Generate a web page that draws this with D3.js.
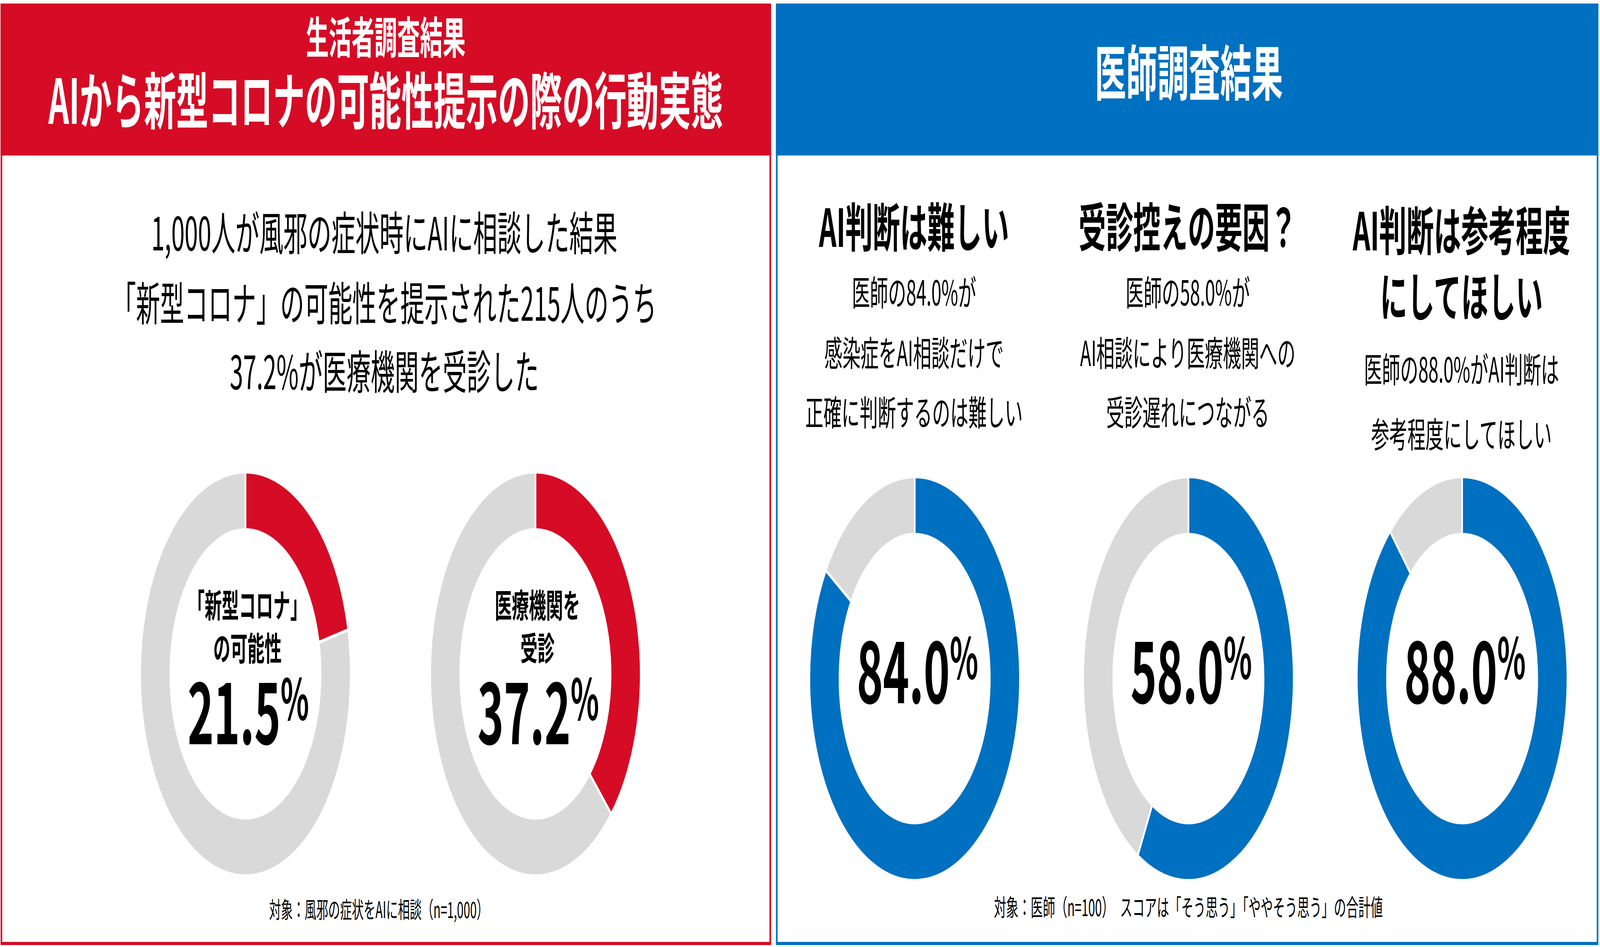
<!DOCTYPE html>
<html>
<head>
<meta charset="utf-8">
<script src="https://cdn.jsdelivr.net/npm/d3@7"></script>
<style>
  html, body { margin: 0; padding: 0; background: #fff; overflow: hidden; }
  svg { display: block; width: 100vw; height: 100vh; }
  text { font-family: "Noto Sans CJK JP", "Noto Sans", sans-serif; }
</style>
</head>
<body>
<div id="chart"></div>
<script>
// 生活者調査（左パネル）
const consumerTitle = ["生活者調査結果", "AIから新型コロナの可能性提示の際の行動実態"];
const consumerLead = [
  "1,000人が風邪の症状時にAIに相談した結果",
  "「新型コロナ」の可能性を提示された215人のうち",
  "37.2%が医療機関を受診した"
];
const consumerValues = [21.5, 37.2];
const consumerLabels = [["「新型コロナ」", "の可能性"], ["医療機関を", "受診"]];
const consumerNote = "対象：風邪の症状をAIに相談（n=1,000）";

// 医師調査（右パネル）
const doctorTitle = "医師調査結果";
const doctorValues = [84.0, 58.0, 88.0];
const doctorHeadings = [["AI判断は難しい"], ["受診控えの要因？"], ["AI判断は参考程度", "にしてほしい"]];
const doctorBodies = [
  ["医師の84.0%が", "感染症をAI相談だけで", "正確に判断するのは難しい"],
  ["医師の58.0%が", "AI相談により医療機関への", "受診遅れにつながる"],
  ["医師の88.0%がAI判断は", "参考程度にしてほしい"]
];
const doctorNote = "対象：医師（n=100）　スコアは「そう思う」「ややそう思う」の合計値";

const W = 7856, H = 2424;
const RED = "#D60B25", BLUE = "#0070C0", GRAY = "#D9D9D9";

// 描画は 7856x2424 の座標で行い、ウィンドウ全体に合わせて伸縮させる
const svg = d3.select("#chart").append("svg")
  .attr("viewBox", `0 0 ${W} ${H}`)
  .attr("preserveAspectRatio", "none");

// 文字の見た目の中心を y に合わせる（central だと少し下がるので補正）
function label(sel, x, y, size, weight, fill) {
  return sel.attr("x", x)
    .attr("y", typeof y === "function" ? (d, j) => y(d, j) - size * 0.05 : y - size * 0.05)
    .attr("text-anchor", "middle").attr("dominant-baseline", "central")
    .attr("font-size", size).attr("font-weight", weight).attr("fill", fill);
}

// パネル枠とヘッダー
function panel(x0, x1, color) {
  const g = svg.append("g");
  g.append("rect")
    .attr("x", x0).attr("y", 9)
    .attr("width", x1 - x0).attr("height", 389)
    .attr("fill", color);
  g.append("rect")
    .attr("x", x0 + 4).attr("y", 13)
    .attr("width", x1 - x0 - 8).attr("height", 2402)
    .attr("fill", "none")
    .attr("stroke", color)
    .attr("stroke-width", 8);
  return g;
}
panel(3, 3786, RED);
panel(3810, 7848, BLUE);

const pie = d3.pie().sort(null).value(d => d);
const arc = d3.arc().innerRadius(369).outerRadius(517);

function donut(cx, cy, value, color) {
  const g = svg.append("g").attr("transform", `translate(${cx},${cy})`);
  g.selectAll("path")
    .data(pie([value, 100 - value]))
    .join("path")
    .attr("d", arc)
    .attr("fill", (d, i) => i === 0 ? color : GRAY)
    .attr("stroke", "#fff")
    .attr("stroke-width", 8);
  return g;
}

function bigNumber(g, value, baseline) {
  const t = g.append("text")
    .attr("x", 14).attr("y", baseline)
    .attr("text-anchor", "middle")
    .attr("font-weight", 700)
    .attr("fill", "#000");
  t.append("tspan").attr("font-size", 218).text(value.toFixed(1));
  t.append("tspan").attr("font-size", 145).attr("dy", -62).text("%");
}

// ---- 左パネル ----
const lx = 1894;
label(svg.append("text"), lx, 95, 112, 700, "#fff").text(consumerTitle[0]);
label(svg.append("text"), lx, 256, 158, 700, "#fff").text(consumerTitle[1]);

const leadY = [595, 775, 950];
label(svg.selectAll("text.lead").data(consumerLead).join("text").attr("class", "lead"),
  1887, (d, i) => leadY[i], 118, 400, "#000")
  .text(d => d);

const xLeft = d3.scalePoint().domain(d3.range(consumerValues.length)).range([1205, 2629]);
consumerValues.forEach((v, i) => {
  const g = donut(xLeft(i), 1725, v, RED);
  label(g.selectAll("text.lab").data(consumerLabels[i]).join("text").attr("class", "lab"),
    10, (d, j) => -177 + j * 110, 84, 700, "#000")
    .text(d => d);
  bigNumber(g, v, 180);
});

label(svg.append("text"), 1860, 2327, 58, 400, "#000").text(consumerNote);

// ---- 右パネル ----
label(svg.append("text"), 5837, 185, 154, 700, "#fff").text(doctorTitle);

const xRight = d3.scalePoint().domain(d3.range(doctorValues.length)).range([4488, 7176]);
const headY = [[580], [580], [589, 758]];
const bodyY = [[748, 903, 1055], [748, 903, 1055], [945, 1111]];

doctorValues.forEach((v, i) => {
  const cx = xRight(i);
  label(svg.selectAll(`text.head${i}`).data(doctorHeadings[i]).join("text").attr("class", `head${i}`),
    cx, (d, j) => headY[i][j], 134, 700, "#000")
    .text(d => d);
  label(svg.selectAll(`text.body${i}`).data(doctorBodies[i]).join("text").attr("class", `body${i}`),
    cx, (d, j) => bodyY[i][j], 89, 400, "#000")
    .text(d => d);

  const g = donut(cx + 3, 1737, v, BLUE);
  bigNumber(g, v, 63);
});

label(svg.append("text"), 5835, 2322, 60, 400, "#000").text(doctorNote);
</script>
</body>
</html>
